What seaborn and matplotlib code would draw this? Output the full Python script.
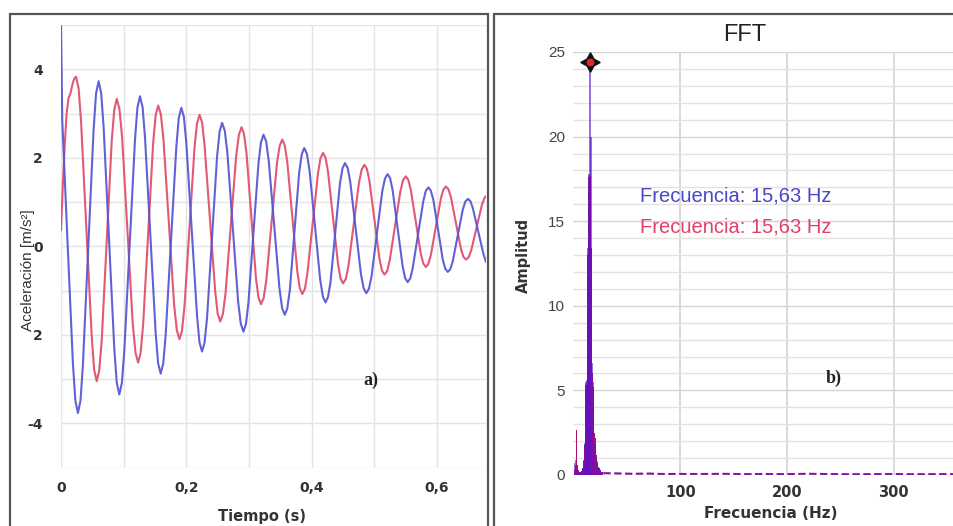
import numpy as np
import pandas as pd
import matplotlib
matplotlib.use("Agg")
import matplotlib.pyplot as plt
import seaborn as sns
from matplotlib.patches import Rectangle

sns.set_theme(style="white")
plt.rcParams['font.family'] = ['DejaVu Sans']

# ---------------- data: panel a) acceleration vs time ----------------
t_blue = [0.000, 0.002, 0.0105, 0.019, 0.0229, 0.027,
          0.0311, 0.035, 0.0435, 0.052, 0.0559, 0.060,
          0.0641, 0.068, 0.0765, 0.085, 0.0889, 0.093,
          0.0971, 0.101, 0.1095, 0.118, 0.1219, 0.126,
          0.1301, 0.134, 0.1425, 0.151, 0.1549, 0.159,
          0.1631, 0.167, 0.1755, 0.184, 0.1879, 0.192,
          0.1961, 0.200, 0.2085, 0.217, 0.2209, 0.225,
          0.229, 0.233, 0.241, 0.249, 0.253, 0.257,
          0.2613, 0.2655, 0.274, 0.2825, 0.2868, 0.291,
          0.295, 0.299, 0.307, 0.315, 0.319, 0.323,
          0.3273, 0.3315, 0.340, 0.3485, 0.3528, 0.357,
          0.3609, 0.365, 0.3725, 0.380, 0.3841, 0.388,
          0.3923, 0.3965, 0.405, 0.4135, 0.4178, 0.422,
          0.4259, 0.430, 0.4375, 0.445, 0.4491, 0.453,
          0.4573, 0.4615, 0.470, 0.4785, 0.4828, 0.487,
          0.4913, 0.4955, 0.504, 0.5125, 0.5168, 0.521,
          0.525, 0.529, 0.537, 0.545, 0.549, 0.553,
          0.5571, 0.561, 0.5695, 0.578, 0.5819, 0.586,
          0.5899, 0.594, 0.6015, 0.609, 0.6131, 0.617,
          0.621, 0.625, 0.633, 0.641, 0.645, 0.649,
          0.6531, 0.657, 0.6655, 0.674, 0.6779, 0.680]
a_blue = [4.98, 2.85, 0.07, -2.65, -3.48, -3.77,
          -3.49, -2.67, -0.02, 2.63, 3.45, 3.73,
          3.46, 2.69, 0.19, -2.31, -3.08, -3.35,
          -3.09, -2.36, 0.02, 2.40, 3.13, 3.39,
          3.15, 2.47, 0.26, -1.96, -2.64, -2.88,
          -2.65, -2.00, 0.13, 2.25, 2.90, 3.13,
          2.92, 2.32, 0.38, -1.57, -2.17, -2.38,
          -2.18, -1.62, 0.21, 2.03, 2.59, 2.79,
          2.61, 2.10, 0.43, -1.24, -1.75, -1.93,
          -1.76, -1.28, 0.30, 1.87, 2.35, 2.52,
          2.37, 1.92, 0.49, -0.95, -1.40, -1.55,
          -1.41, -1.00, 0.34, 1.67, 2.08, 2.22,
          2.09, 1.71, 0.48, -0.76, -1.14, -1.27,
          -1.15, -0.81, 0.31, 1.42, 1.76, 1.88,
          1.77, 1.45, 0.41, -0.63, -0.95, -1.06,
          -0.96, -0.67, 0.29, 1.24, 1.53, 1.63,
          1.54, 1.27, 0.41, -0.45, -0.72, -0.81,
          -0.73, -0.50, 0.26, 1.02, 1.25, 1.33,
          1.26, 1.05, 0.38, -0.30, -0.51, -0.58,
          -0.52, -0.34, 0.25, 0.83, 1.01, 1.07,
          1.02, 0.86, 0.34, -0.18, -0.35, -0.38]

t_red = [0.000, 0.003, 0.006, 0.009, 0.012, 0.015, 0.019, 0.0215, 0.024,
         0.0281, 0.032, 0.0405, 0.049, 0.0529, 0.057,
         0.061, 0.065, 0.073, 0.081, 0.085, 0.089,
         0.0933, 0.0975, 0.106, 0.1145, 0.1188, 0.123,
         0.127, 0.131, 0.139, 0.147, 0.151, 0.155,
         0.1593, 0.1635, 0.172, 0.1805, 0.1848, 0.189,
         0.193, 0.197, 0.205, 0.213, 0.217, 0.221,
         0.2251, 0.229, 0.2375, 0.246, 0.2499, 0.254,
         0.2583, 0.2625, 0.271, 0.2795, 0.2838, 0.288,
         0.2919, 0.296, 0.3035, 0.311, 0.3151, 0.319,
         0.3233, 0.3275, 0.336, 0.3445, 0.3488, 0.353,
         0.357, 0.361, 0.369, 0.377, 0.381, 0.385,
         0.3891, 0.393, 0.4015, 0.410, 0.4139, 0.418,
         0.422, 0.426, 0.434, 0.442, 0.446, 0.450,
         0.4543, 0.4585, 0.467, 0.4755, 0.4798, 0.484,
         0.488, 0.492, 0.500, 0.508, 0.512, 0.516,
         0.5203, 0.5245, 0.533, 0.5415, 0.5458, 0.550,
         0.554, 0.558, 0.566, 0.574, 0.578, 0.582,
         0.586, 0.590, 0.598, 0.606, 0.610, 0.614,
         0.618, 0.622, 0.630, 0.638, 0.642, 0.646,
         0.6503, 0.6545, 0.663, 0.6715, 0.6758, 0.680]
a_red = [0.36, 1.40, 2.30, 3.00, 3.35, 3.45, 3.70, 3.80, 3.83,
         3.57, 2.82, 0.39, -2.04, -2.79, -3.05,
         -2.81, -2.12, 0.14, 2.40, 3.09, 3.33,
         3.10, 2.46, 0.35, -1.76, -2.40, -2.63,
         -2.41, -1.78, 0.28, 2.33, 2.96, 3.18,
         2.98, 2.41, 0.54, -1.33, -1.90, -2.10,
         -1.91, -1.36, 0.44, 2.23, 2.78, 2.97,
         2.80, 2.29, 0.64, -1.02, -1.52, -1.70,
         -1.53, -1.06, 0.50, 2.05, 2.52, 2.69,
         2.54, 2.10, 0.69, -0.72, -1.16, -1.31,
         -1.17, -0.77, 0.55, 1.87, 2.27, 2.41,
         2.28, 1.90, 0.67, -0.57, -0.95, -1.08,
         -0.96, -0.62, 0.52, 1.65, 1.99, 2.11,
         2.00, 1.68, 0.64, -0.41, -0.73, -0.84,
         -0.74, -0.45, 0.50, 1.45, 1.74, 1.84,
         1.75, 1.48, 0.60, -0.28, -0.55, -0.64,
         -0.56, -0.31, 0.47, 1.25, 1.50, 1.58,
         1.50, 1.28, 0.56, -0.17, -0.39, -0.47,
         -0.40, -0.20, 0.44, 1.08, 1.28, 1.35,
         1.29, 1.11, 0.53, -0.06, -0.24, -0.30,
         -0.25, -0.09, 0.43, 0.94, 1.10, 1.15]

time_ticks = [0, 0.2, 0.4, 0.6]
time_tick_labels = ['0', '0,2', '0,4', '0,6']
acc_ticks = [-4, -2, 0, 2, 4]
acc_tick_labels = ['-4', '2', '0', '2', '4']

# ---------------- data: panel b) FFT ----------------
fft_freq = [0.98, 1.95, 2.93, 3.91, 4.88, 5.86, 6.84, 7.81, 8.79, 9.77,
            10.74, 11.72, 12.70, 13.67, 14.65, 15.63, 16.60, 17.58, 18.55, 19.53,
            20.51, 21.48, 22.46, 23.44, 24.41, 25.39, 26.37, 27.34]
fft_blue = [0.7, 0.9, 0.5, 0.3, 0.2, 0.2, 0.2, 0.25, 0.4, 0.9,
            1.9, 5.5, 5.6, 13.4, 17.8, 24.4, 20.0, 6.6, 5.5, 1.9,
            1.8, 0.9, 0.8, 0.5, 0.4, 0.3, 0.2, 0.15]
fft_red = [0.3, 0.6, 2.65, 0.6, 0.3, 0.2, 0.2, 0.25, 0.4, 0.8,
           1.8, 5.3, 5.4, 13.0, 17.6, 17.7, 13.4, 6.0, 5.2, 2.5,
           2.2, 1.2, 0.7, 0.5, 0.4, 0.3, 0.2, 0.15]
tail_freq = [28, 40, 55, 70, 85, 100, 120, 140, 160, 180, 200, 220, 240, 260, 280, 300, 320, 340, 357]
tail_blue = [0.12, 0.10, 0.08, 0.09, 0.07, 0.06, 0.07, 0.08, 0.06, 0.05, 0.06, 0.07, 0.05, 0.05, 0.06, 0.05, 0.05, 0.06, 0.05]
tail_red = [0.10, 0.09, 0.07, 0.08, 0.06, 0.07, 0.06, 0.07, 0.05, 0.06, 0.05, 0.08, 0.06, 0.04, 0.05, 0.06, 0.04, 0.05, 0.05]
peak_freq = 15.63
peak_amp = 24.4
freq_ticks = [100, 200, 300]
amp_ticks = [0, 5, 10, 15, 20, 25]
freq_label_blue = "Frecuencia: 15,63 Hz"
freq_label_red = "Frecuencia: 15,63 Hz"

BLUE = '#5454d4'
RED = '#e35874'
BAR_BLUE = '#5a10c8'
BAR_RED = '#b01070'

W, H = 954, 526
fig = plt.figure(figsize=(W / 100, H / 100), dpi=100)
fig.patch.set_facecolor('white')


def fx(px):
    return px / W


def fy(py):
    return 1 - py / H


# ---------------- panel a ----------------
ax1 = fig.add_axes([fx(61), fy(467.5), (486 - 61) / W, (467.5 - 25) / H])
ax1.set_facecolor('white')
sns.lineplot(x=t_red, y=a_red, ax=ax1, color=RED, lw=1.5, sort=False, errorbar=None)
sns.lineplot(x=t_blue, y=a_blue, ax=ax1, color=BLUE, lw=1.5, sort=False, errorbar=None, alpha=0.92)
ax1.set_xlim(0, 0.678)
ax1.set_ylim(-5, 5)
ax1.set_xticks(time_ticks)
ax1.set_xticklabels(time_tick_labels)
ax1.set_xticks(np.arange(0, 0.68, 0.1), minor=True)
ax1.set_yticks(acc_ticks)
ax1.set_yticklabels(acc_tick_labels)
ax1.set_yticks(np.arange(-5, 6, 1), minor=True)
ax1.grid(which='both', color='#e4e4e4', lw=1.0)
ax1.tick_params(which='both', length=0)
ax1.tick_params(axis='x', pad=9.5, labelsize=10, labelcolor='#333333')
ax1.tick_params(axis='y', pad=13, labelsize=10, labelcolor='#333333')
for lbl in ax1.get_xticklabels() + ax1.get_yticklabels():
    lbl.set_fontweight('bold')
for s in ax1.spines.values():
    s.set_visible(False)
ax1.set_xlabel('Tiempo (s)', fontsize=10.5, fontweight='bold', color='#333333', va='center')
ax1.xaxis.set_label_coords((262 - 61) / 425, (467.5 - 516) / 442.5)
ax1.set_ylabel('Aceleración [m/s²]', fontsize=11, family='Liberation Sans', color='#333333', va='center')
ax1.yaxis.set_label_coords((28 - 61) / 425, (467.5 - 270) / 442.5)
ax1.text((371 - 61) / 425, (467.5 - 380) / 442.5, 'a)', transform=ax1.transAxes,
         ha='center', va='center', family='Liberation Serif', fontweight='bold', fontsize=13, color='#222222')

# ---------------- panel b ----------------
ax2 = fig.add_axes([fx(573.5), fy(475), (W - 573.5) / W, (475 - 52) / H])
ax2.set_facecolor('white')
ax2.bar(fft_freq, fft_red, width=1.4, color=BAR_RED, linewidth=0, zorder=3)
ax2.bar(fft_freq, fft_blue, width=1.4, color=BAR_BLUE, alpha=0.6, linewidth=0, zorder=4)
sns.lineplot(x=tail_freq, y=tail_red, ax=ax2, color=BAR_RED, lw=1.3, errorbar=None, zorder=3)
sns.lineplot(x=tail_freq, y=tail_blue, ax=ax2, color=BAR_BLUE, lw=1.3, alpha=0.6, errorbar=None, zorder=4)
for ln in ax2.lines[-2:]:
    ln.set_dashes([4, 2])
ax2.plot([peak_freq], [peak_amp], marker=(4, 1, 0), ms=14, color='#111111', clip_on=False, zorder=6, ls='none')
ax2.plot([peak_freq], [peak_amp], marker='o', ms=4.5, color='#e02828', clip_on=False, zorder=7, ls='none')
ax2.set_xlim(0, (W - 573.5) / 1.067)
ax2.set_ylim(0, 25)
ax2.set_xticks(freq_ticks)
ax2.set_yticks(amp_ticks)
ax2.set_yticks(np.arange(0, 26, 1), minor=True)
ax2.grid(which='minor', axis='y', color='#e2e2e2', lw=1.0)
ax2.grid(which='major', axis='y', color='#d4d4d4', lw=1.0)
ax2.grid(which='major', axis='x', color='#d8d8d8', lw=1.3)
ax2.tick_params(which='both', length=0)
ax2.tick_params(axis='x', pad=7.5, labelsize=10.5, labelcolor='#333333')
ax2.tick_params(axis='y', pad=6, labelsize=11, labelcolor='#444444')
for lbl in ax2.get_xticklabels():
    lbl.set_fontweight('bold')
for lbl in ax2.get_yticklabels():
    lbl.set_fontfamily('Liberation Sans')
for s in ax2.spines.values():
    s.set_visible(False)
ax2.set_xlabel('Frecuencia (Hz)', fontsize=11, fontweight='bold', color='#333333', va='center')
ax2.xaxis.set_label_coords((771 - 573.5) / 380.5, (475 - 513) / 423)
ax2.set_ylabel('Amplitud', fontsize=10.5, fontweight='bold', color='#333333', va='center')
ax2.yaxis.set_label_coords((523 - 573.5) / 380.5, (475 - 255) / 423)
ax2.text((745 - 573.5) / 380.5, (475 - 35) / 423, 'FFT', transform=ax2.transAxes,
         ha='center', va='center', family='Liberation Sans', fontsize=17, color='#222222')
ax2.text((640 - 573.5) / 380.5, (475 - 196) / 423, freq_label_blue, transform=ax2.transAxes,
         ha='left', va='center', family='Liberation Sans', fontsize=14.5, color='#4a46c8')
ax2.text((640 - 573.5) / 380.5, (475 - 227) / 423, freq_label_red, transform=ax2.transAxes,
         ha='left', va='center', family='Liberation Sans', fontsize=14.5, color='#e0406a')
ax2.text((834 - 573.5) / 380.5, (475 - 378) / 423, 'b)', transform=ax2.transAxes,
         ha='center', va='center', family='Liberation Serif', fontweight='bold', fontsize=13, color='#222222')

# ---------------- panel frames ----------------
fig.add_artist(Rectangle((fx(10), fy(540)), (488 - 10) / W, (540 - 14) / H, transform=fig.transFigure,
                         fill=False, ec='#555555', lw=1.6, clip_on=False))
fig.add_artist(Rectangle((fx(494), fy(540)), (970 - 494) / W, (540 - 14) / H, transform=fig.transFigure,
                         fill=False, ec='#555555', lw=1.6, clip_on=False))

fig.savefig('out.png', dpi=100, facecolor='white')
